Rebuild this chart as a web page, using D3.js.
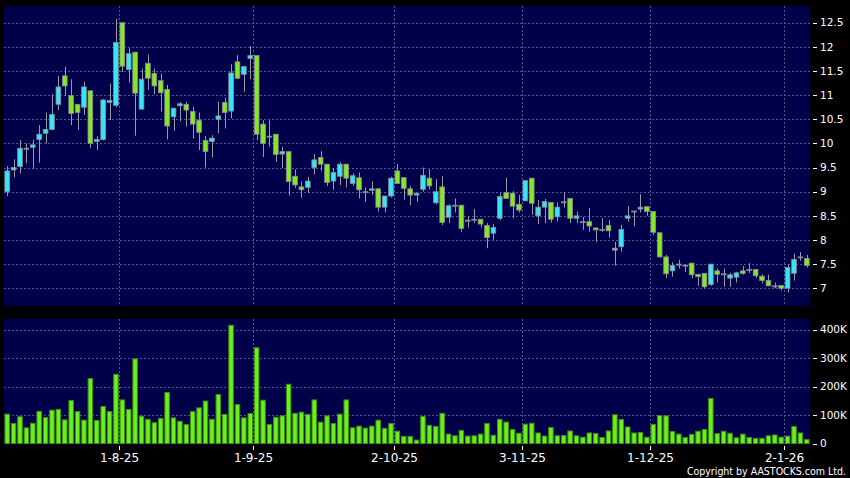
<!DOCTYPE html>
<html>
<head>
<meta charset="utf-8">
<script src="https://cdn.jsdelivr.net/npm/d3@7"></script>
<style>
  html, body { margin: 0; padding: 0; background: #000; }
  svg { display: block; }
</style>
</head>
<body>
<svg id="chart"></svg>
<script>
// daily prices, one entry per trading day (9 Jul 2025 .. 7 Jan 2026)
const open = [
  9.00, 9.45, 9.52, 9.89, 9.92, 10.08, 10.21, 10.29, 10.81, 11.40,
  10.99, 10.81, 10.75, 11.09, 10.04, 10.08, 10.85, 10.79, 12.50, 11.53,
  11.89, 10.71, 11.66, 11.45, 11.30, 11.12, 10.55, 10.78, 10.81, 10.66,
  10.48, 10.06, 10.04, 10.50, 10.85, 10.67, 11.69, 11.43, 11.76, 11.82,
  10.40, 10.13, 10.19, 9.78, 9.83, 9.32, 9.10, 9.09, 9.50, 9.71,
  9.57, 9.22, 9.32, 9.57, 9.17, 9.29, 9.00, 9.03, 9.06, 8.68,
  8.91, 9.43, 9.29, 9.06, 8.93, 9.05, 9.28, 8.77, 9.10, 8.47,
  8.72, 8.72, 8.41, 8.43, 8.43, 8.30, 8.14, 8.45, 8.98, 8.97,
  8.74, 8.81, 9.28, 8.50, 8.68, 8.78, 8.48, 8.79, 8.86, 8.45,
  8.38, 8.38, 8.25, 8.22, 8.30, 7.83, 7.86, 8.45, 8.60, 8.64,
  8.69, 8.59, 8.15, 7.65, 7.36, 7.50, 7.48, 7.52, 7.29, 7.31,
  7.08, 7.36, 7.30, 7.21, 7.23, 7.36, 7.39, 7.39, 7.25, 7.16,
  7.05, 7.06, 7.00, 7.31, 7.65, 7.62
];
const high = [
  9.53, 9.67, 10.07, 10.00, 10.08, 10.38, 10.64, 11.02, 11.40, 11.59,
  11.33, 10.81, 11.28, 11.09, 10.15, 10.92, 11.24, 12.58, 12.50, 11.97,
  11.89, 11.55, 11.84, 11.55, 11.45, 11.21, 10.73, 10.86, 10.86, 10.76,
  10.64, 10.15, 10.17, 10.86, 10.95, 11.64, 11.83, 11.61, 12.02, 11.82,
  10.48, 10.48, 10.19, 9.93, 9.83, 9.46, 9.21, 9.31, 9.78, 9.84,
  9.57, 9.48, 9.61, 9.57, 9.38, 9.40, 9.09, 9.22, 9.06, 8.91,
  9.31, 9.57, 9.29, 9.12, 8.97, 9.50, 9.46, 9.26, 9.32, 8.74,
  8.86, 8.72, 8.50, 8.64, 8.43, 8.35, 8.33, 8.97, 9.29, 9.01,
  8.93, 9.23, 9.28, 8.83, 8.85, 8.78, 8.78, 8.99, 8.86, 8.59,
  8.48, 8.66, 8.25, 8.45, 8.41, 7.96, 8.31, 8.70, 8.60, 8.95,
  8.69, 8.59, 8.15, 7.69, 7.54, 7.59, 7.50, 7.53, 7.29, 7.31,
  7.50, 7.41, 7.41, 7.32, 7.34, 7.46, 7.52, 7.39, 7.29, 7.28,
  7.12, 7.06, 7.50, 7.72, 7.75, 7.69
];
const low = [
  8.91, 9.30, 9.38, 9.59, 9.47, 9.60, 10.00, 10.27, 10.69, 11.00,
  10.38, 10.28, 10.59, 9.91, 9.86, 10.06, 10.48, 10.75, 11.48, 11.26,
  10.16, 10.71, 11.11, 11.02, 10.66, 10.08, 10.26, 10.46, 10.35, 10.10,
  9.86, 9.50, 9.71, 10.21, 10.31, 10.52, 11.33, 11.07, 11.33, 10.07,
  9.72, 9.93, 9.62, 9.49, 8.92, 9.08, 8.88, 8.97, 9.36, 9.43,
  9.12, 9.04, 9.14, 9.09, 9.12, 8.86, 8.79, 8.93, 8.59, 8.57,
  8.88, 9.17, 8.83, 8.72, 8.79, 9.00, 9.05, 8.74, 8.31, 8.35,
  8.57, 8.17, 8.26, 8.35, 8.26, 7.83, 8.00, 8.41, 8.86, 8.45,
  8.57, 8.81, 8.52, 8.33, 8.35, 8.36, 8.39, 8.67, 8.35, 8.35,
  8.21, 8.17, 7.96, 8.17, 8.05, 7.47, 7.76, 8.38, 8.28, 8.57,
  8.50, 8.10, 7.63, 7.21, 7.24, 7.41, 7.34, 7.21, 7.05, 7.00,
  7.05, 7.12, 7.03, 7.03, 7.12, 7.28, 7.31, 7.21, 7.10, 7.05,
  7.00, 6.95, 6.91, 7.16, 7.57, 7.43
];
const close = [
  9.43, 9.50, 9.90, 9.90, 9.97, 10.19, 10.29, 10.60, 11.17, 11.19,
  10.62, 10.64, 11.17, 10.00, 10.08, 10.90, 10.89, 12.09, 11.60, 11.86,
  11.04, 11.33, 11.35, 11.19, 11.05, 10.36, 10.73, 10.82, 10.69, 10.40,
  10.23, 9.83, 10.11, 10.57, 10.64, 11.46, 11.35, 11.59, 11.82, 10.19,
  10.00, 10.15, 9.77, 9.83, 9.21, 9.14, 9.04, 9.22, 9.66, 9.57,
  9.19, 9.40, 9.57, 9.28, 9.33, 9.04, 9.00, 9.06, 8.68, 8.91,
  9.28, 9.17, 9.07, 8.93, 8.97, 9.34, 9.12, 9.00, 8.36, 8.71,
  8.72, 8.24, 8.41, 8.43, 8.33, 8.05, 8.26, 8.90, 8.86, 8.70,
  8.62, 9.23, 8.76, 8.68, 8.80, 8.43, 8.68, 8.79, 8.45, 8.50,
  8.38, 8.29, 8.21, 8.22, 8.19, 7.79, 8.22, 8.50, 8.60, 8.68,
  8.59, 8.16, 7.65, 7.30, 7.47, 7.50, 7.48, 7.28, 7.24, 7.03,
  7.50, 7.29, 7.30, 7.28, 7.32, 7.31, 7.39, 7.26, 7.16, 7.05,
  7.05, 7.00, 7.43, 7.60, 7.65, 7.47
];
const volume = [
  103, 70, 94, 55, 71, 113, 91, 117, 120, 83,
  151, 112, 82, 228, 81, 130, 112, 243, 153, 119,
  297, 96, 85, 73, 88, 179, 90, 78, 67, 112,
  125, 149, 85, 172, 102, 415, 137, 90, 105, 336,
  152, 67, 92, 97, 208, 106, 110, 102, 153, 75,
  97, 70, 103, 153, 55, 61, 54, 61, 82, 53,
  70, 43, 25, 25, 12, 95, 64, 60, 106, 33,
  27, 46, 26, 27, 33, 70, 29, 85, 75, 49,
  36, 68, 71, 37, 26, 56, 27, 28, 44, 27,
  22, 37, 35, 21, 44, 101, 84, 58, 37, 39,
  22, 67, 98, 97, 42, 33, 21, 32, 43, 49,
  158, 35, 43, 36, 20, 33, 21, 18, 18, 27,
  30, 22, 26, 60, 37, 14
].map(function (v) { return v * 1000; });

// first trading day of each month shown on the x axis
const tickLabels = ["1-8-25", "1-9-25", "2-10-25", "3-11-25", "1-12-25", "2-1-26"];
const tickIdx = [17, 38, 60, 80, 100, 121];

const priceTicks = [7, 7.5, 8, 8.5, 9, 9.5, 10, 10.5, 11, 11.5, 12, 12.5];
const volTicks = [0, 100000, 200000, 300000, 400000];
const volTickLabels = ["0", "100K", "200K", "300K", "400K"];

const width = 850;
const height = 478;
const left = 4, right = 810;
const pTop = 6, pBottom = 306;
const vTop = 319, vBottom = 443.5;

const cyan = "#36e6f4";
const green = "#84e826";
const navy = "#00004a";
const gridColor = "#54548e";

const svg = d3.select("#chart").attr("width", width).attr("height", height);

svg.append("rect")
    .attr("width", width)
    .attr("height", height)
    .attr("fill", "#000");

const x = d3.scaleBand()
    .domain(d3.range(open.length))
    .range([left, right])
    .paddingInner(0.14)
    .paddingOuter(0.07);
const bw = x.bandwidth();
const step = x.step();

function cx(i) { return x(i) + bw / 2; }
// boundary just after a labelled day, where the month grid line sits
function gx(i) { return Math.round(x(i) + step - (step - bw) / 2) + 0.5; }

const yP = d3.scaleLinear().domain([6.633, 12.846]).range([pBottom, pTop]);
const yV = d3.scaleLinear().domain([0, 437000]).range([vBottom, vTop]);

// panels
svg.append("rect")
    .attr("x", left).attr("y", pTop)
    .attr("width", right - left).attr("height", pBottom - pTop)
    .attr("fill", navy);
svg.append("rect")
    .attr("x", left).attr("y", vTop)
    .attr("width", right - left).attr("height", vBottom - vTop)
    .attr("fill", navy);

// grid
const grid = svg.append("g").attr("class", "grid")
    .attr("stroke", gridColor)
    .attr("stroke-width", 1)
    .attr("stroke-dasharray", "2,2")
    .attr("shape-rendering", "crispEdges");

grid.selectAll("line.hp")
    .data(priceTicks)
    .enter()
    .append("line")
    .attr("class", "hp")
    .attr("x1", left).attr("x2", right)
    .attr("y1", function (d) { return Math.round(yP(d)) + 0.5; })
    .attr("y2", function (d) { return Math.round(yP(d)) + 0.5; });

grid.selectAll("line.hv")
    .data(volTicks.slice(1))
    .enter()
    .append("line")
    .attr("class", "hv")
    .attr("x1", left).attr("x2", right)
    .attr("y1", function (d) { return Math.round(yV(d)) + 0.5; })
    .attr("y2", function (d) { return Math.round(yV(d)) + 0.5; });

[[pTop, pBottom], [vTop, vBottom]].forEach(function (r) {
    grid.selectAll(null)
        .data(tickIdx)
        .enter()
        .append("line")
        .attr("x1", gx)
        .attr("x2", gx)
        .attr("y1", r[0]).attr("y2", r[1]);
});

// candles
const candles = svg.append("g").attr("class", "candles")
    .selectAll("g")
    .data(d3.range(open.length))
    .enter()
    .append("g");

candles.append("line")
    .attr("x1", function (i) { return Math.round(cx(i)) + 0.5; })
    .attr("x2", function (i) { return Math.round(cx(i)) + 0.5; })
    .attr("y1", function (i) { return yP(high[i]); })
    .attr("y2", function (i) { return yP(low[i]); })
    .attr("stroke", "#9a9aa6")
    .attr("stroke-width", 1);

candles.append("rect")
    .attr("x", function (i) { return x(i) + 0.4; })
    .attr("width", bw - 0.8)
    .attr("y", function (i) { return yP(Math.max(open[i], close[i])); })
    .attr("height", function (i) { return Math.max(1, Math.abs(yP(open[i]) - yP(close[i]))); })
    .attr("fill", function (i) {
        if (close[i] > open[i]) return cyan;
        if (close[i] < open[i]) return green;
        return "#9a9aa6";
    })
    .attr("stroke", "#8a8a94")
    .attr("stroke-width", 0.8);

// volume
svg.append("g").attr("class", "volume")
    .selectAll("rect")
    .data(volume)
    .enter()
    .append("rect")
    .attr("x", function (d, i) { return x(i) + 0.5; })
    .attr("width", bw - 1)
    .attr("y", function (d) { return yV(d); })
    .attr("height", function (d) { return vBottom - yV(d); })
    .attr("fill", "#6cf01c")
    .attr("stroke", "#3e8e12")
    .attr("stroke-width", 1);

// right axes
const axisFont = "DejaVu Sans, Verdana, sans-serif";

const pAxis = svg.append("g").attr("class", "paxis");
pAxis.selectAll("line")
    .data(priceTicks)
    .enter()
    .append("line")
    .attr("x1", 813).attr("x2", 817)
    .attr("y1", function (d) { return Math.round(yP(d)) + 0.5; })
    .attr("y2", function (d) { return Math.round(yP(d)) + 0.5; })
    .attr("stroke", "#fff");
pAxis.selectAll("text")
    .data(priceTicks)
    .enter()
    .append("text")
    .attr("x", 820)
    .attr("y", function (d) { return yP(d); })
    .attr("dy", "0.36em")
    .text(function (d) { return d3.format("")(d); })
    .attr("fill", "#fff")
    .attr("font-family", axisFont)
    .attr("font-size", "10.5px");

const vAxis = svg.append("g").attr("class", "vaxis");
vAxis.selectAll("line")
    .data(volTicks)
    .enter()
    .append("line")
    .attr("x1", 813).attr("x2", 817)
    .attr("y1", function (d) { return Math.round(yV(d)) + 0.5; })
    .attr("y2", function (d) { return Math.round(yV(d)) + 0.5; })
    .attr("stroke", "#fff");
vAxis.selectAll("text")
    .data(volTicks)
    .enter()
    .append("text")
    .attr("x", 820)
    .attr("y", function (d) { return yV(d); })
    .attr("dy", "0.36em")
    .text(function (d, i) { return volTickLabels[i]; })
    .attr("fill", "#fff")
    .attr("font-family", axisFont)
    .attr("font-size", "10.5px");

// date axis
const xAxis = svg.append("g").attr("class", "xaxis");
xAxis.selectAll("line")
    .data(tickIdx)
    .enter()
    .append("line")
    .attr("x1", gx)
    .attr("x2", gx)
    .attr("y1", 446).attr("y2", 450)
    .attr("stroke", "#fff");
xAxis.selectAll("text")
    .data(tickIdx)
    .enter()
    .append("text")
    .attr("x", gx)
    .attr("y", 462)
    .attr("text-anchor", "middle")
    .text(function (d, i) { return tickLabels[i]; })
    .attr("fill", "#fff")
    .attr("font-family", axisFont)
    .attr("font-size", "12px");

svg.append("text")
    .attr("x", 846)
    .attr("y", 475)
    .attr("text-anchor", "end")
    .text("Copyright by AASTOCKS.com Ltd.")
    .attr("fill", "#fff")
    .attr("font-family", "DejaVu Sans Condensed, DejaVu Sans, sans-serif")
    .attr("font-stretch", "condensed")
    .attr("font-size", "10.5px");
</script>
</body>
</html>
